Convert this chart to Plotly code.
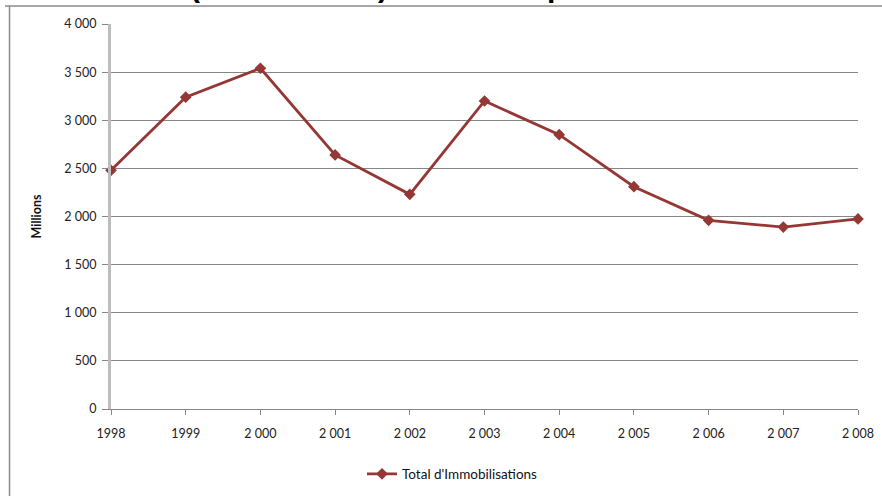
import plotly.graph_objects as go

years = [1998, 1999, 2000, 2001, 2002, 2003, 2004, 2005, 2006, 2007, 2008]
year_labels = ["1998", "1999", "2 000", "2 001", "2 002", "2 003", "2 004", "2 005", "2 006", "2 007", "2 008"]
totals = [2480, 3240, 3540, 2640, 2230, 3200, 2850, 2310, 1960, 1890, 1975]
y_ticks = [0, 500, 1000, 1500, 2000, 2500, 3000, 3500, 4000]
y_tick_labels = ["0", "500", "1 000", "1 500", "2 000", "2 500", "3 000", "3 500", "4 000"]
series_name = "Total d'Immobilisations"

W, H = 882, 496
L, R, T, B = 111, 24, 24, 87
pw, ph = W - L - R, H - T - B

def px_x(x):
    return (x - L) / pw

def px_y(y):
    return (H - B - y) / ph

color = "#953735"
fam = "Lato, 'Liberation Sans', sans-serif"
fnt = dict(family=fam, size=12.5, color="#222222")

fig = go.Figure()
fig.add_trace(go.Scatter(
    x=years, y=totals, mode="lines+markers", name=series_name,
    line=dict(color=color, width=2.8),
    marker=dict(symbol="diamond", size=9, color=color),
    cliponaxis=False,
))

fig.update_layout(
    width=W, height=H,
    margin=dict(l=L, r=R, t=T, b=B, autoexpand=False),
    paper_bgcolor="white", plot_bgcolor="white",
    font=fnt,
    showlegend=True,
    legend=dict(orientation="h", x=px_x(362), xanchor="left", y=px_y(474), yanchor="middle",
                font=dict(family=fam, size=13.5, color="#111111"),
                bgcolor="rgba(0,0,0,0)"),
    xaxis=dict(range=[1998, 2008], tickvals=years, ticktext=year_labels,
               showgrid=False, zeroline=False, showline=True, linecolor="#868686", linewidth=1,
               ticks="outside", ticklen=5, tickcolor="#868686", tickfont=fnt, fixedrange=True,
               ticklabelstandoff=8),
    yaxis=dict(range=[0, 4000], tickvals=y_ticks, ticktext=y_tick_labels,
               showgrid=True, gridcolor="#868686", gridwidth=1, zeroline=False,
               showline=True, linecolor="#bdbdbd", linewidth=3,
               ticks="outside", ticklen=6, tickcolor="#868686", tickfont=fnt,
               ticklabelstandoff=3,
               title=dict(text="<b>Millions</b>", font=dict(family=fam, size=12.5, color="#111111"), standoff=20)),
)

# Chart frame (outer border of the chart object)
fig.add_shape(type="line", xref="paper", yref="paper", x0=px_x(5), x1=px_x(882), y0=px_y(6), y1=px_y(6),
              line=dict(color="#8a8a8a", width=1.5))
fig.add_shape(type="line", xref="paper", yref="paper", x0=px_x(9.5), x1=px_x(9.5), y0=px_y(6), y1=px_y(496),
              line=dict(color="#8a8a8a", width=1.5))

# Cropped title above the chart (only descenders visible)
for ch, xx in [("(", 195), (")", 383), ("p", 556)]:
    fig.add_annotation(text="<b>" + ch + "</b>", xref="paper", yref="paper", x=px_x(xx), y=px_y(5),
                       xanchor="center", yanchor="bottom", showarrow=False,
                       font=dict(family="'Liberation Sans', sans-serif", size=30, color="black"))

fig.write_html("out.html")
